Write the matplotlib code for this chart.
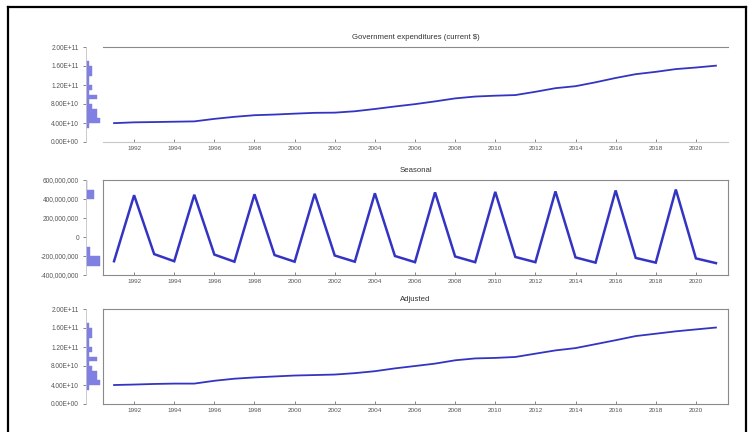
import numpy as np
import matplotlib
matplotlib.use("Agg")
import matplotlib.pyplot as plt
from matplotlib.lines import Line2D
from matplotlib.ticker import FuncFormatter

plt.rcParams['font.family'] = ['Liberation Sans', 'DejaVu Sans']

# annual data, 1991-2021
years = list(range(1991, 2022))

# government expenditures, current $ (billions)
expend_bn = [39.7, 41.4, 42.0, 42.7, 43.4, 48.7, 53.0, 56.4, 57.8, 59.7, 61.4,
             61.8, 64.7, 69.5, 74.8, 79.7, 85.5, 91.8, 95.7, 97.5, 98.8,
             105.7, 113.3, 117.5, 125.7, 134.8, 142.8, 147.7, 153.5, 156.8, 160.7]

# seasonal component (millions of $)
seasonal_m = [-255, 440, -180, -255, 445, -185, -260, 450, -190, -260, 455,
              -195, -260, 460, -200, -265, 470, -205, -265, 475, -210,
              -265, 480, -215, -270, 490, -220, -270, 500, -225, -275]

W, H = 752, 432
expend = np.array(expend_bn) * 1e9
seasonal = np.array(seasonal_m) * 1e6
adjusted = expend - seasonal

line_col = '#3434c4'
hist_col = '#8080e2'
label_col = '#555555'
spine_col = '#8a8a8a'


def rect(x0, y0, x1, y1):
    return [x0 / W, 1 - y1 / H, (x1 - x0) / W, (y1 - y0) / H]


fig = plt.figure(figsize=(W / 100, H / 100), dpi=100)

# outer frame
for xs, ys in [([8, 8], [7, H + 5]), ([8, 746], [7, 7]), ([746, 746], [7, H + 5])]:
    fig.add_artist(Line2D([x / W for x in xs], [1 - y / H for y in ys],
                          color='black', lw=1.6, transform=fig.transFigure))

panels = [
    ("Government expenditures (current $)", expend, 47, 142, (0, 2.0e11),
     np.arange(0, 2.01e11, 4e10), lambda v, p: f"{v:.2E}", np.arange(0, 2.01e11, 1e10), 1.3),
    ("Seasonal", seasonal, 180, 275, (-4e8, 6e8),
     np.arange(-4e8, 6.01e8, 2e8), lambda v, p: f"{v:,.0f}", np.arange(-4e8, 6.01e8, 1e8), 1.8),
    ("Adjusted", adjusted, 309, 404, (0, 2.0e11),
     np.arange(0, 2.01e11, 4e10), lambda v, p: f"{v:.2E}", np.arange(0, 2.01e11, 1e10), 1.3),
]

for i, (title, vals, top, bot, ylim, yticks, fmt, bins, lw) in enumerate(panels):
    ax = fig.add_axes(rect(103, top, 728, bot))
    ax.plot(years, vals, color=line_col, lw=lw, solid_joinstyle='miter')
    ax.set_xlim(1990.45, 2021.6)
    ax.set_ylim(*ylim)
    ax.set_xticks(range(1992, 2021, 2))
    ax.tick_params(axis='x', labelsize=4.6, colors=label_col, length=2,
                   width=0.5, pad=3, direction='in')
    ax.tick_params(axis='y', left=False, labelleft=False)
    for s in ax.spines.values():
        s.set_color(spine_col)
        s.set_linewidth(0.8)
    if i == 0:
        ax.spines['left'].set_visible(False)
        ax.spines['right'].set_visible(False)
        ax.spines['bottom'].set_color('#c8c8c8')
    ax.set_title(title, fontsize=5.6, color='#333333', pad=6)

    # value distribution beside the y axis
    hx = fig.add_axes(rect(86, top, 102, bot), sharey=ax)
    counts, edges = np.histogram(vals, bins=bins)
    hx.barh(edges[:-1], counts, height=np.diff(edges), left=0, align='edge',
            color=hist_col, edgecolor=hist_col, lw=0.3)
    hx.set_xlim(0, counts.max() * 1.15)
    hx.set_xticks([])
    hx.set_yticks(yticks)
    hx.yaxis.set_major_formatter(FuncFormatter(fmt))
    hx.tick_params(axis='y', labelsize=4.7, colors=label_col, length=2,
                   width=0.5, pad=3)
    for k in ['top', 'right', 'bottom']:
        hx.spines[k].set_visible(False)
    hx.spines['left'].set_color('#c8c8c8')
    hx.spines['left'].set_linewidth(0.6)
    hx.patch.set_alpha(0)

fig.savefig("out.png", dpi=100)
